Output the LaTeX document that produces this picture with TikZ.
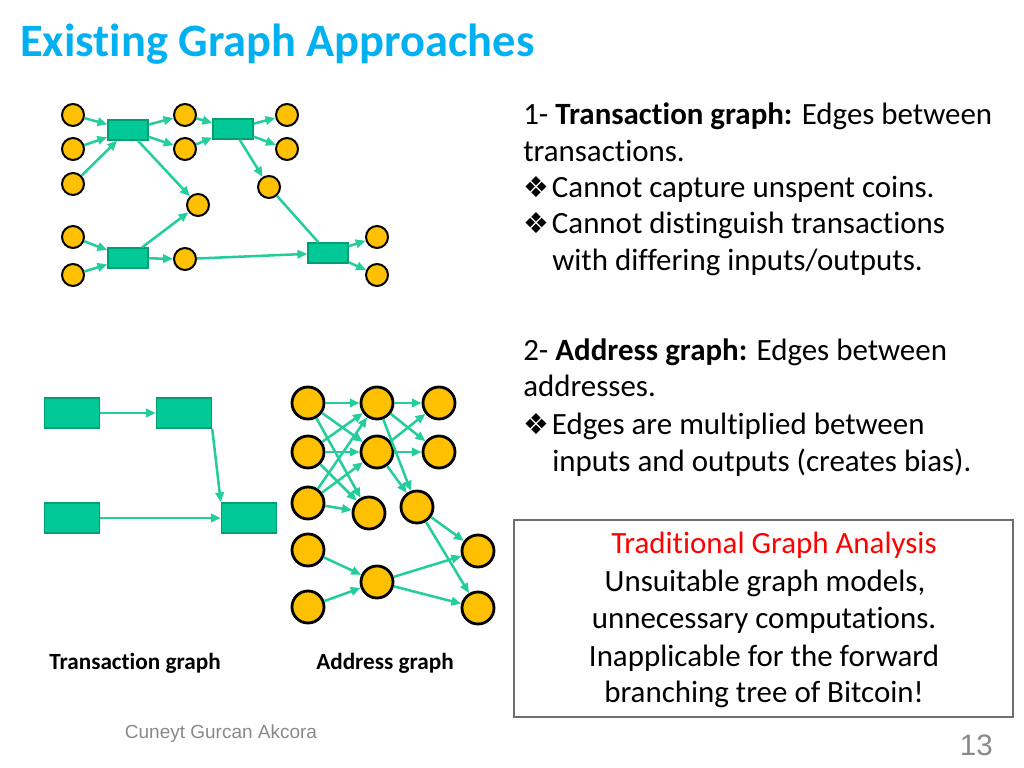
\documentclass[tikz,border=0pt]{standalone}
\usepackage{fontspec}
\setmainfont{Carlito}[Ligatures=NoCommon]
\newfontfamily\footfont{Liberation Sans}
\newfontfamily\symfont{DejaVu Sans}
\usetikzlibrary{arrows.meta}

\definecolor{titleblue}{RGB}{0,176,240}
\definecolor{txfill}{RGB}{0,200,150}
\definecolor{txline}{RGB}{0,158,112}
\definecolor{edgegreen}{RGB}{36,205,155}
\definecolor{coinyellow}{RGB}{255,192,0}
\definecolor{footgray}{RGB}{137,137,137}
\definecolor{boxgray}{RGB}{110,110,110}

\newcommand{\bul}{{\symfont\fontsize{20.5}{24}\selectfont\char"2756}\hspace{2pt}}

\tikzset{
  coin/.style={circle,draw=black,fill=coinyellow,line width=1.4pt,minimum size=0.55cm,inner sep=0pt},
  addr/.style={coin,line width=2pt,minimum size=0.8cm},
  tx/.style={rectangle,draw=txline,fill=txfill,line width=1pt,minimum width=1cm,minimum height=0.5cm,inner sep=0pt},
  bigtx/.style={tx,minimum width=1.375cm,minimum height=0.75cm},
  flow/.style={draw=edgegreen,line width=1.8pt,-{Triangle[length=7pt,width=6pt]}},
  bodytext/.style={anchor=base west,inner sep=0pt,font=\fontsize{22}{26}\selectfont},
  boxtext/.style={anchor=base,inner sep=0pt,font=\fontsize{22}{26}\selectfont},
  caption/.style={anchor=base,inner sep=0pt,font=\fontsize{16.5}{19}\selectfont\bfseries}
}

\begin{document}
\begin{tikzpicture}[x=0.025cm,y=-0.025cm]
  \useasboundingbox (0,0) rectangle (1024,768);

  % title
  \node[anchor=base west,inner sep=0pt,text=titleblue,font=\fontsize{33}{40}\selectfont\bfseries]
    (title) at (20,57) {Existing Graph Approaches};

  % transaction graph with coins
  \node[coin] (i1) at (73,115) {};
  \node[coin] (i2) at (73,149) {};
  \node[coin] (i3) at (73,184) {};
  \node[coin] (i4) at (73,237) {};
  \node[coin] (i5) at (73,275) {};
  \node[tx] (tx1) at (128,130) {};
  \node[tx] (tx2) at (233,129) {};
  \node[tx] (tx3) at (128,258) {};
  \node[tx] (tx4) at (328,253) {};
  \node[coin] (m1) at (185,115) {};
  \node[coin] (m2) at (185,149) {};
  \node[coin] (m3) at (198,205) {};
  \node[coin] (m4) at (185,259) {};
  \node[coin] (o1) at (287,115) {};
  \node[coin] (o2) at (287,149) {};
  \node[coin] (o3) at (269,187) {};
  \node[coin] (o4) at (377,237) {};
  \node[coin] (o5) at (377,275) {};
  \begin{scope}[flow]
    \draw (i1) -- (tx1);
    \draw (i2) -- (tx1);
    \draw (i3) -- (tx1);
    \draw (i4) -- (tx3);
    \draw (i5) -- (tx3);
    \draw (tx1) -- (m1);
    \draw (tx1) -- (m2);
    \draw (tx1) -- (m3);
    \draw (tx3) -- (m3);
    \draw (tx3) -- (m4);
    \draw (m1) -- (tx2);
    \draw (m2) -- (tx2);
    \draw (tx2) -- (o1);
    \draw (tx2) -- (o2);
    \draw (tx2) -- (o3);
    \draw[-] (o3) -- (tx4);
    \draw (m4) -- (tx4);
    \draw (tx4) -- (o4);
    \draw (tx4) -- (o5);
  \end{scope}

  % transaction graph
  \node[bigtx] (ta) at (72,413) {};
  \node[bigtx] (tb) at (184,413) {};
  \node[bigtx] (tc) at (72,518) {};
  \node[bigtx] (td) at (249,518) {};
  \begin{scope}[flow]
    \draw (ta) -- (tb);
    \draw (tb.south east) -- (td.north west);
    \draw (tc) -- (td);
  \end{scope}

  % address graph
  \node[addr] (a1) at (308,403) {};
  \node[addr] (a2) at (308,452) {};
  \node[addr] (a3) at (308,503) {};
  \node[addr] (a4) at (308,550) {};
  \node[addr] (a5) at (308,607) {};
  \node[addr] (b1) at (377,403) {};
  \node[addr] (b2) at (377,452) {};
  \node[addr] (b3) at (369,513) {};
  \node[addr] (d) at (417,507) {};
  \node[addr] (g) at (377,582) {};
  \node[addr] (e1) at (439,403) {};
  \node[addr] (e2) at (439,452) {};
  \node[addr] (h1) at (478,551) {};
  \node[addr] (h2) at (478,608) {};
  \begin{scope}[flow]
    \draw (a1) -- (b1);
    \draw (a1) -- (b2);
    \draw (a1) -- (b3);
    \draw (a2) -- (b1);
    \draw (a2) -- (b2);
    \draw (a2) -- (b3);
    \draw (a3) -- (b1);
    \draw (a3) -- (b2);
    \draw (a3) -- (b3);
    \draw (b1) -- (e1);
    \draw (b1) -- (e2);
    \draw (b1) -- (d);
    \draw (b2) -- (e1);
    \draw (b2) -- (e2);
    \draw (b2) -- (d);
    \draw (a4) -- (g);
    \draw (a5) -- (g);
    \draw (g) -- (h1);
    \draw (g) -- (h2);
    \draw (d) -- (h1);
    \draw (d) -- (h2);
  \end{scope}

  \node[caption] (cap1) at (135,669) {Transaction graph};
  \node[caption] (cap2) at (385,669) {Address graph};

  % text on the right
  \node[bodytext] (p1) at (523,125) {1- \textbf{Transaction graph:} Edges between};
  \node[bodytext] (p2) at (523,161) {transactions.};
  \node[bodytext] (p3) at (523,197) {\bul Cannot capture unspent coins.};
  \node[bodytext] (p4) at (523,233) {\bul Cannot distinguish transactions};
  \node[bodytext] (p5) at (552,270) {with differing inputs/outputs.};
  \node[bodytext] (q1) at (523,360) {2- \textbf{Address graph:} Edges between};
  \node[bodytext] (q2) at (523,396) {addresses.};
  \node[bodytext] (q3) at (523,434) {\bul Edges are multiplied between};
  \node[bodytext] (q4) at (552,471) {inputs and outputs (creates bias).};

  % summary box
  \draw[boxgray,line width=0.8pt] (514,520) rectangle (1013,717);
  \node[boxtext,text=red] (r1) at (774,553) {Traditional Graph Analysis};
  \node[boxtext] (r2) at (765,591) {Unsuitable graph models,};
  \node[boxtext] (r3) at (764,628) {unnecessary computations.};
  \node[boxtext] (r4) at (764,666) {Inapplicable for the forward};
  \node[boxtext] (r5) at (764,702) {branching tree of Bitcoin!};

  % footer
  \node[anchor=base,inner sep=0pt,text=footgray,font=\footfont\fontsize{13.5}{16}\selectfont]
    (author) at (221,738) {Cuneyt Gurcan Akcora};
  \node[anchor=base east,inner sep=0pt,text=footgray,font=\footfont\fontsize{21}{25}\selectfont]
    (page) at (993,755) {13};
\end{tikzpicture}
\end{document}
